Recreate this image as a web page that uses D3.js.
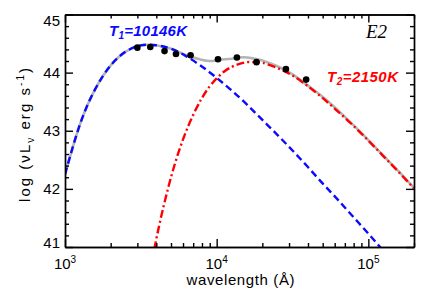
<!DOCTYPE html>
<html lang="en">
<head>
<meta charset="utf-8">
<title>SED E2</title>
<script src="https://d3js.org/d3.v7.min.js"></script>
<style>
  body, html { margin: 0; padding: 0; background: #fff; }
  svg { display: block; }
  .axis path, .axis line { stroke: black; stroke-width: 1.4px; fill: none; }
  text { font-family: "Liberation Sans", Arial, sans-serif; fill: black; }
</style>
</head>
<body>
<svg id="sed" width="436" height="291"></svg>
<script>
// observed photometry: wavelength (A) and log(nu L_nu)
var obsWave = [3000, 3650, 4530, 5390, 6730, 10200, 13600, 18300, 28600, 38900];
var obsLum  = [44.43, 44.44, 44.37, 44.32, 44.30, 44.23, 44.26, 44.18, 44.06, 43.88];

// hot component, T1 = 10146 K
var hotWave = [1000, 1259, 1585, 1995, 2512, 3162, 3981, 5012, 6310, 7943, 10000, 12589, 15849, 19953,
               25119, 31623, 39811, 50119, 63096, 79433, 100000, 125893];
var hotLum  = [42.25, 43.12, 43.72, 44.12, 44.36, 44.47, 44.47, 44.41, 44.28, 44.11, 43.91, 43.69, 43.45, 43.19,
               42.93, 42.66, 42.38, 42.09, 41.81, 41.52, 41.23, 40.93];

// warm component, T2 = 2150 K
var warmWave = [3548, 3981, 4467, 5012, 5623, 6310, 7079, 7943, 8913, 10000, 11220, 12589, 14125, 15849,
                17783, 19953, 25119, 31623, 39811, 50119, 63096, 79433, 100000, 125893, 158489, 199526];
var warmLum  = [40.42, 41.11, 41.70, 42.21, 42.64, 43.00, 43.30, 43.55, 43.75, 43.90, 44.02, 44.10, 44.15, 44.18,
                44.18, 44.17, 44.08, 43.95, 43.77, 43.56, 43.33, 43.09, 42.83, 42.56, 42.29, 42.01];

// total of both components (grey)
var sumWave = [1000, 1259, 1585, 1995, 2512, 3162, 3981, 5012, 6310, 7943, 8913, 10000, 11220, 12589, 14125,
               15849, 17783, 19953, 25119, 31623, 39811, 50119, 63096, 79433, 100000, 125893, 158489, 199526];
var sumLum  = [42.25, 43.12, 43.72, 44.12, 44.36, 44.47, 44.47, 44.41, 44.30, 44.22, 44.20, 44.21, 44.23, 44.24, 44.26,
               44.26, 44.24, 44.21, 44.11, 43.97, 43.78, 43.58, 43.35, 43.10, 42.84, 42.57, 42.30, 42.02];

var xMajor = [1e3, 1e4, 1e5];
var xExp   = ["3", "4", "5"];
var yMajor = [41, 42, 43, 44, 45];

var pLeft = 65, pRight = 414, pTop = 14.5, pBottom = 247;

var svg = d3.select("#sed");

var x = d3.scaleLog().domain([1e3, 2e5]).range([pLeft, pRight]);
var y = d3.scaleLinear().domain([41, 45]).range([pBottom, pTop]);

// minor ticks
var xMinor = [];
[1e3, 1e4, 1e5].forEach(function(d) {
    for (var k = 2; k <= 9; k++) { if (d * k <= 2e5) xMinor.push(d * k); }
});
var yMinor = d3.range(41, 45.001, 0.2).filter(function(v) {
    return Math.abs(v - Math.round(v)) > 0.01;
});

svg.append("clipPath").attr("id", "plotclip")
    .append("rect").attr("x", pLeft).attr("y", pTop)
    .attr("width", pRight - pLeft).attr("height", pBottom - pTop);

var plot = svg.append("g").attr("clip-path", "url(#plotclip)");

var line = d3.line()
    .x(function(d) { return x(d[0]); })
    .y(function(d) { return y(d[1]); })
    .curve(d3.curveNatural);

plot.append("path")
    .datum(d3.zip(sumWave, sumLum))
    .attr("d", line)
    .attr("fill", "none")
    .attr("stroke", "#b4b4b4")
    .attr("stroke-width", 2.6);

plot.append("path")
    .datum(d3.zip(hotWave, hotLum))
    .attr("d", line)
    .attr("fill", "none")
    .attr("stroke", "#0a0aff")
    .attr("stroke-width", 2.4)
    .attr("stroke-dasharray", "7,4");

plot.append("path")
    .datum(d3.zip(warmWave, warmLum))
    .attr("d", line)
    .attr("fill", "none")
    .attr("stroke", "#ff0000")
    .attr("stroke-width", 2.4)
    .attr("stroke-dasharray", "8,3,2,3");

plot.selectAll("circle.obs")
    .data(d3.zip(obsWave, obsLum))
    .enter().append("circle")
    .attr("class", "obs")
    .attr("cx", function(d) { return x(d[0]); })
    .attr("cy", function(d) { return y(d[1]); })
    .attr("r", 3.3)
    .attr("fill", "black");

// axes: ticks point into the box on all four sides
function addAxis(axisFn, scale, vals, size, tr) {
    svg.append("g").attr("class", "axis").attr("transform", tr)
        .call(axisFn(scale).tickValues(vals).tickSizeInner(size).tickSizeOuter(0).tickFormat(""));
}
addAxis(d3.axisBottom, x, xMajor, -8, "translate(0," + pBottom + ")");
addAxis(d3.axisBottom, x, xMinor, -4, "translate(0," + pBottom + ")");
addAxis(d3.axisTop, x, xMajor, -8, "translate(0," + pTop + ")");
addAxis(d3.axisTop, x, xMinor, -4, "translate(0," + pTop + ")");
addAxis(d3.axisLeft, y, yMajor, -8, "translate(" + pLeft + ",0)");
addAxis(d3.axisLeft, y, yMinor, -4, "translate(" + pLeft + ",0)");
addAxis(d3.axisRight, y, yMajor, -8, "translate(" + pRight + ",0)");
addAxis(d3.axisRight, y, yMinor, -4, "translate(" + pRight + ",0)");

// x tick labels 10^n
var xl = svg.selectAll("text.xtick")
    .data(xMajor)
    .enter().append("text")
    .attr("class", "xtick")
    .attr("x", function(d) { return x(d); })
    .attr("y", 269)
    .attr("text-anchor", "middle")
    .style("font-size", "15px");
xl.append("tspan").text("10");
xl.append("tspan").attr("dy", -6).style("font-size", "10px")
    .text(function(d, i) { return xExp[i]; });

// y tick labels
svg.selectAll("text.ytick")
    .data(yMajor)
    .enter().append("text")
    .attr("class", "ytick")
    .attr("x", 60)
    .attr("y", function(d) { return Math.min(Math.max(y(d), pTop + 6), pBottom - 4) + 5; })
    .attr("text-anchor", "end")
    .style("font-size", "15px")
    .text(function(d) { return d; });

// axis titles
svg.append("text")
    .attr("x", (pLeft + pRight) / 2 + 1)
    .attr("y", 285)
    .attr("text-anchor", "middle")
    .attr("textLength", 108)
    .attr("lengthAdjust", "spacing")
    .style("font-size", "15px")
    .text("wavelength (\u00c5)");

var yt = svg.append("text")
    .attr("transform", "translate(30,135) rotate(-90)")
    .attr("text-anchor", "middle")
    .attr("textLength", 134)
    .attr("lengthAdjust", "spacing")
    .style("font-size", "15px");
yt.append("tspan").text("log  (\u03bdL");
yt.append("tspan").attr("dy", 4).style("font-size", "10px").text("\u03bd");
yt.append("tspan").attr("dy", -4).text(" erg s");
yt.append("tspan").attr("dy", -6).style("font-size", "10px").text("-1");
yt.append("tspan").attr("dy", 6).text(")");

// component labels
function tempLabel(xp, yp, sub, val, color, len) {
    var t = svg.append("text")
        .attr("x", xp).attr("y", yp)
        .attr("textLength", len)
        .attr("lengthAdjust", "spacing")
        .style("font-size", "15px")
        .style("font-weight", "bold")
        .style("font-style", "italic")
        .style("fill", color);
    t.append("tspan").text("T");
    t.append("tspan").attr("dy", 3).style("font-size", "10px").text(sub);
    t.append("tspan").attr("dy", -3).text("=" + val);
}
tempLabel(109, 36, "1", "10146K", "#0a0aff", 78);
tempLabel(327, 82, "2", "2150K", "#ff0000", 71);

svg.append("text")
    .attr("x", 366).attr("y", 38)
    .style("font-family", "'Liberation Serif', 'Times New Roman', serif")
    .style("font-style", "italic")
    .style("font-size", "19px")
    .text("E2");
</script>
</body>
</html>
